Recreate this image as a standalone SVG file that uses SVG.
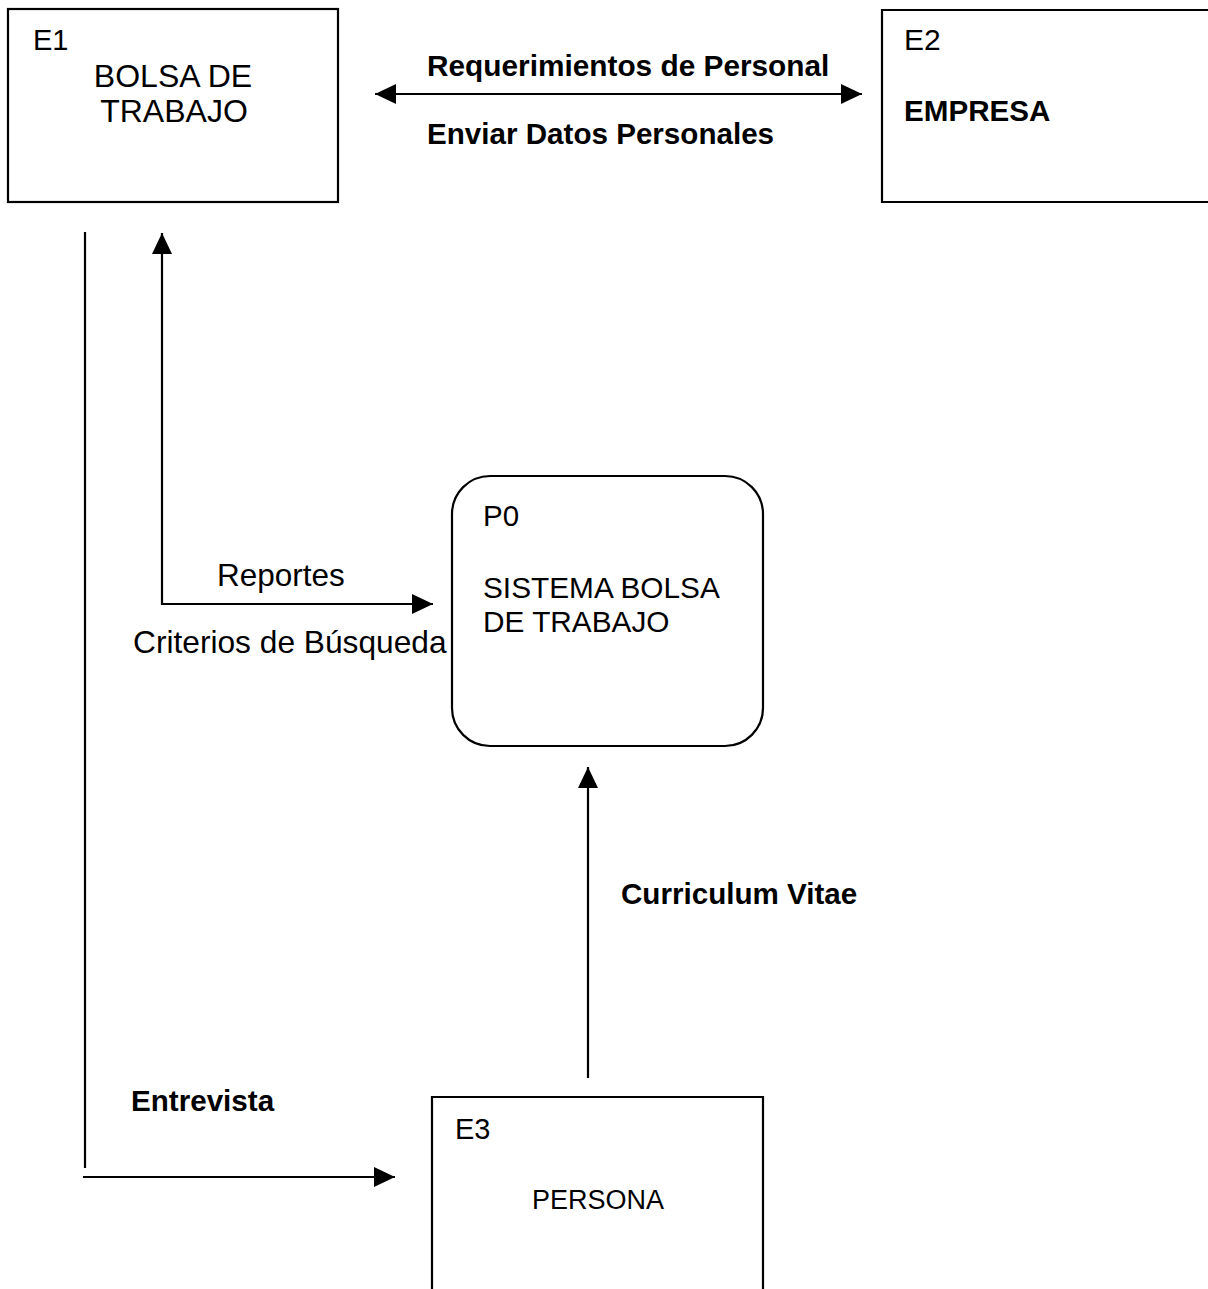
<svg xmlns="http://www.w3.org/2000/svg" width="1208" height="1289" viewBox="0 0 1208 1289">
<style>
.box{fill:#fff;stroke:#000;stroke-width:2.2}
.open{fill:none;stroke:#000;stroke-width:2.2}
.conn{fill:none;stroke:#000;stroke-width:2.2}
.t{font-family:"Liberation Sans",Arial,sans-serif;font-size:30px;fill:#000}
.b{font-family:"Liberation Sans",Arial,sans-serif;font-size:29.6px;font-weight:bold;fill:#000}
</style>
<defs>
<marker id="ah" viewBox="0 0 21 20" refX="21" refY="10" markerWidth="21" markerHeight="20" markerUnits="userSpaceOnUse" orient="auto-start-reverse">
<path d="M0,0 L21,10 L0,20 Z" fill="#000"/>
</marker>
</defs>
<rect width="1208" height="1289" fill="#fff"/>
<g id="E1">
<rect class="box" x="8" y="9" width="330" height="193"/>
<text class="t" x="33" y="50" style="font-size:29px">E1</text>
<text class="t" x="173" y="87" text-anchor="middle" style="font-size:32px">BOLSA DE</text>
<text class="t" x="174" y="122" text-anchor="middle" style="font-size:32px">TRABAJO</text>
</g>
<g id="E2">
<path class="open" d="M1210,10 H882 V202 H1210"/>
<text class="t" x="904" y="50" style="font-size:30px">E2</text>
<text class="b" x="904" y="121">EMPRESA</text>
</g>
<g id="P0">
<rect class="box" x="452" y="476" width="311" height="270" rx="38" ry="38"/>
<text class="t" x="483" y="526" style="font-size:29.5px">P0</text>
<text class="t" x="483" y="598" style="font-size:29.8px">SISTEMA BOLSA</text>
<text class="t" x="483" y="632" style="font-size:29.8px">DE TRABAJO</text>
</g>
<g id="E3">
<path class="open" d="M432,1291 V1097 H763 V1291"/>
<text class="t" x="455" y="1139" style="font-size:29px">E3</text>
<text class="t" x="532" y="1209" style="font-size:27px">PERSONA</text>
</g>
<g id="connectors">
<path class="conn" d="M375,94 H862" marker-start="url(#ah)" marker-end="url(#ah)"/>
<path class="conn" d="M162,233 V604 H433" marker-start="url(#ah)" marker-end="url(#ah)"/>
<path class="conn" d="M588,1078 V767" marker-end="url(#ah)"/>
<path class="conn" d="M85,232 V1168"/>
<path class="conn" d="M83,1177 H395" marker-end="url(#ah)"/>
</g>
<g id="labels">
<text class="b" x="427" y="76" style="font-size:29.8px">Requerimientos de Personal</text>
<text class="b" x="427" y="144">Enviar Datos Personales</text>
<text class="t" x="217" y="586" style="font-size:31.5px">Reportes</text>
<text class="t" x="133" y="653" style="font-size:31.7px">Criterios de Búsqueda</text>
<text class="b" x="621" y="904">Curriculum Vitae</text>
<text class="b" x="131" y="1111">Entrevista</text>
</g>
</svg>
